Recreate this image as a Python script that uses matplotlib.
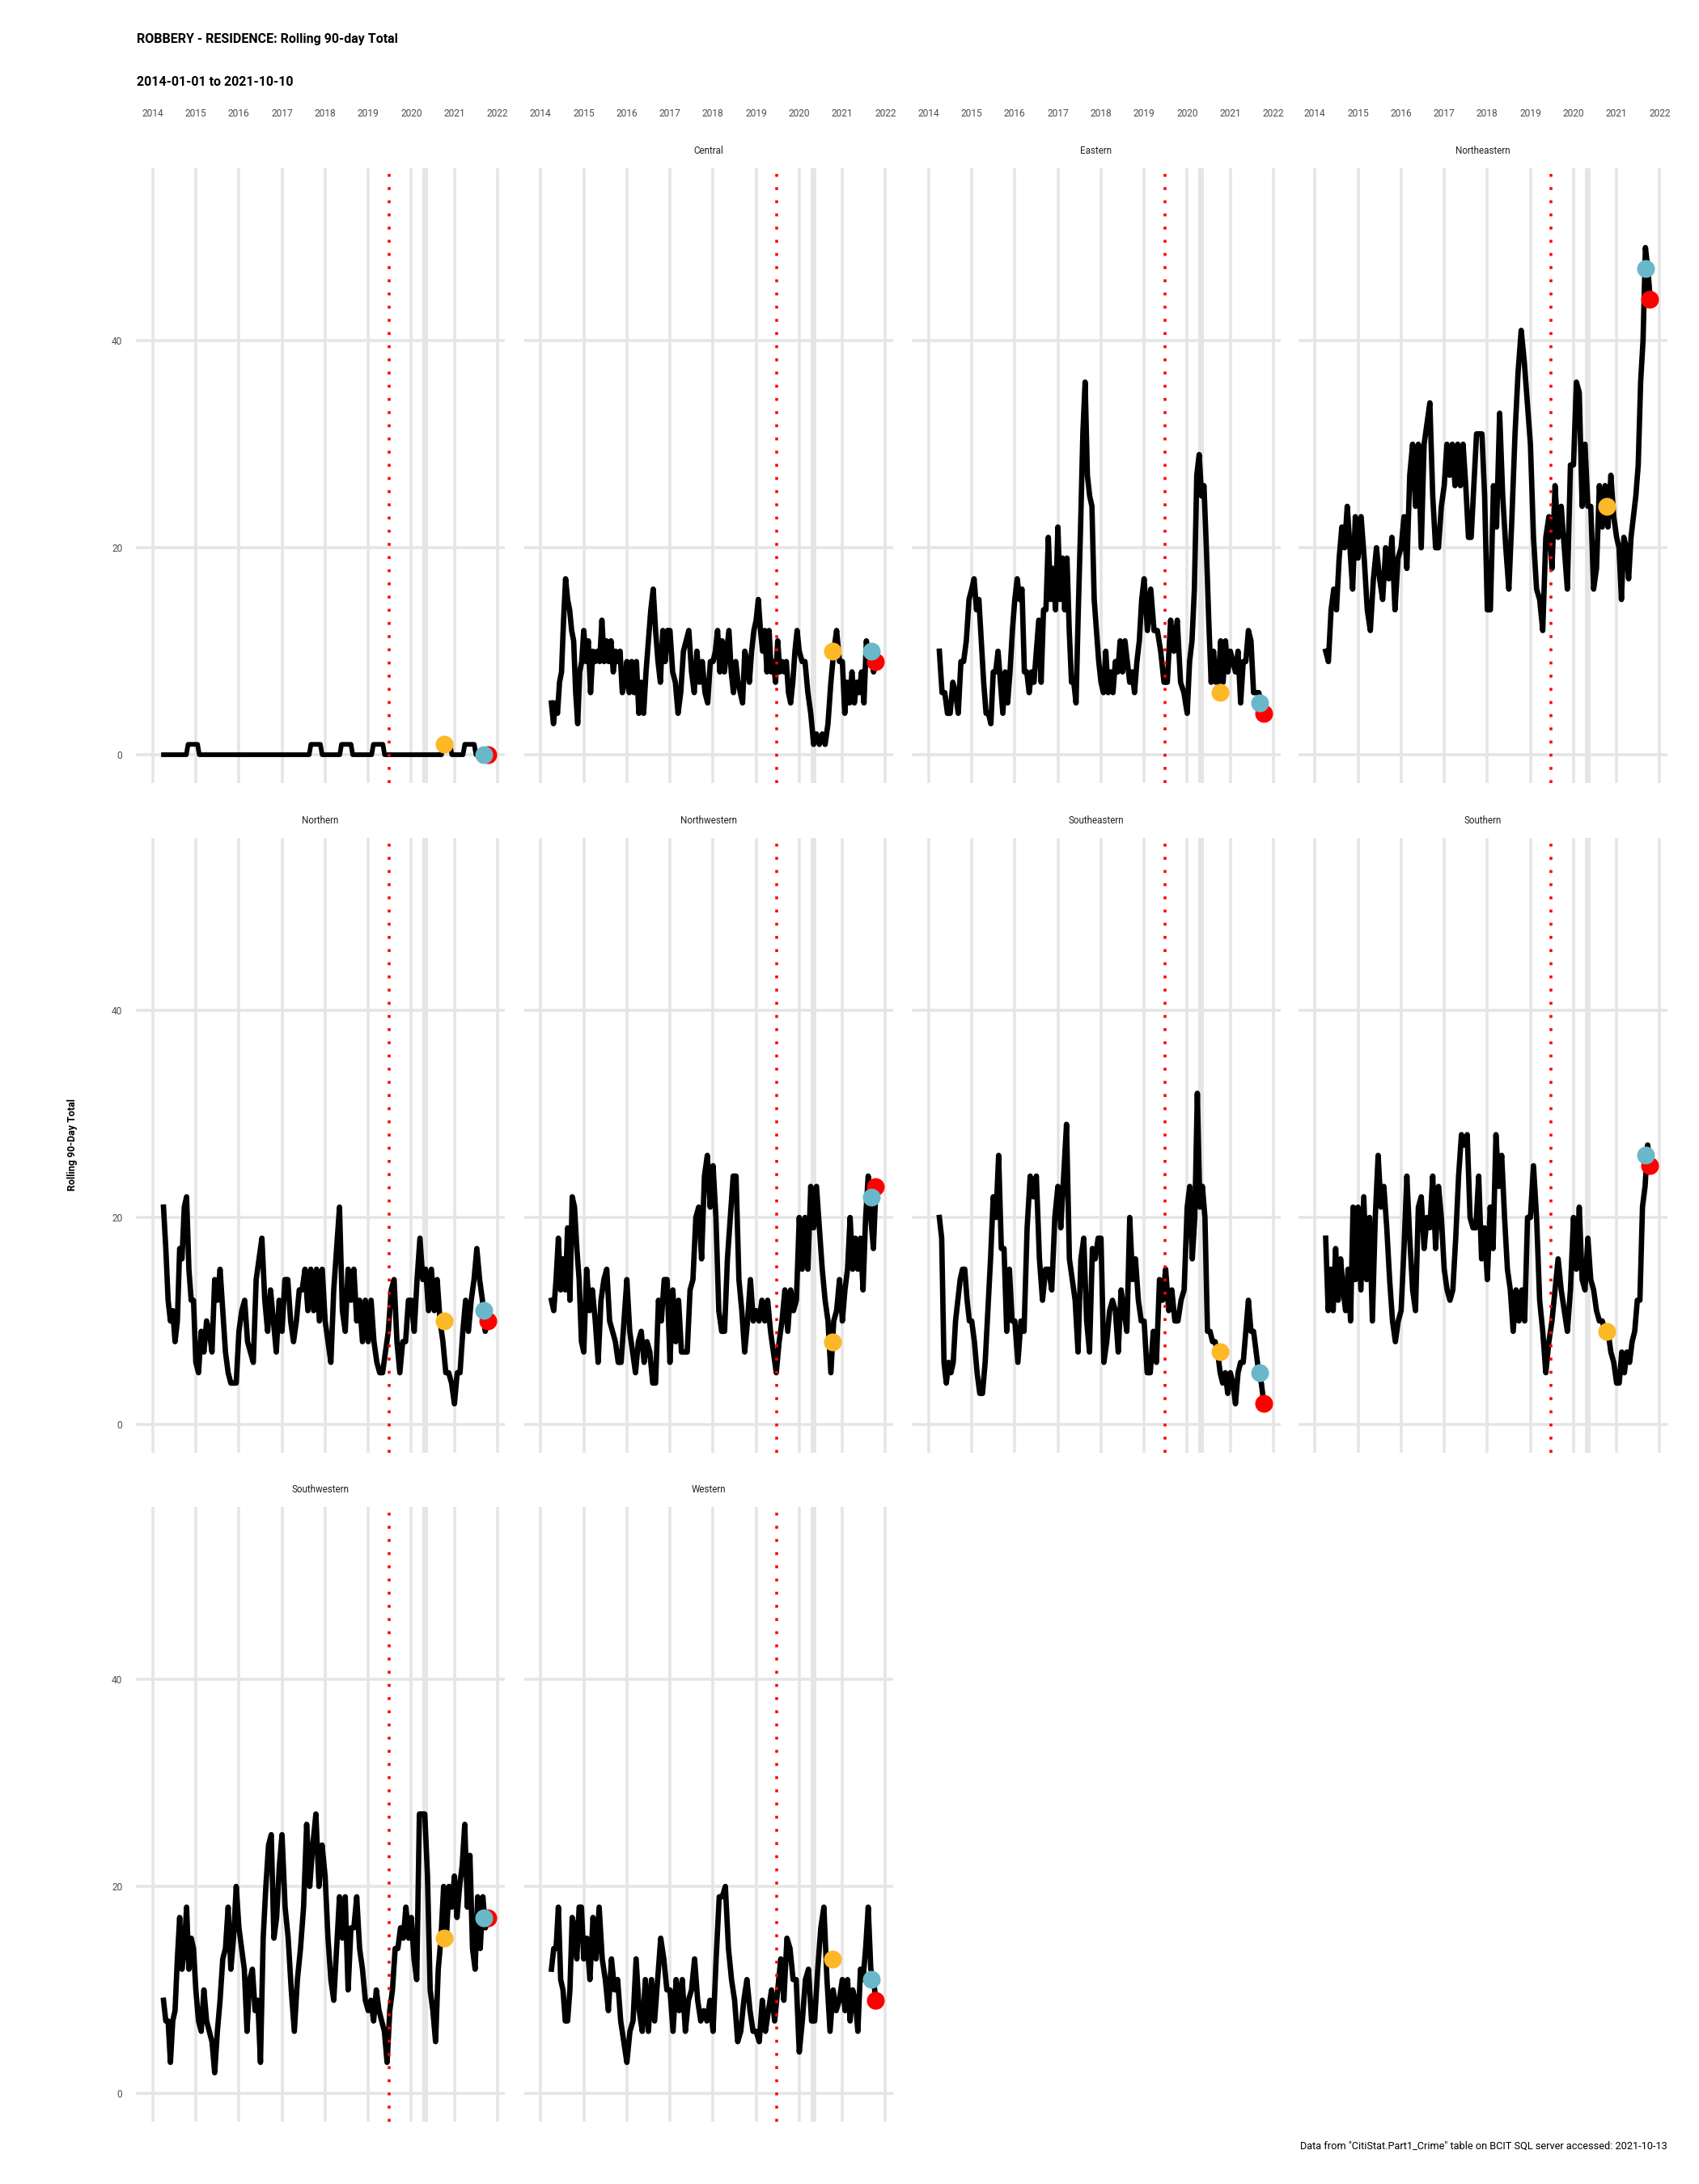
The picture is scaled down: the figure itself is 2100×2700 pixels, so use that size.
#!/usr/bin/env python3
import numpy as np
import matplotlib
matplotlib.use("Agg")
import matplotlib.pyplot as plt

plt.rcParams["font.family"] = ["Roboto", "DejaVu Sans"]

districts = ["", "Central", "Eastern", "Northeastern", "Northern", "Northwestern",
             "Southeastern", "Southern", "Southwestern", "Western"]
years = [2014, 2015, 2016, 2017, 2018, 2019, 2020, 2021, 2022]
y_ticks = [0, 20, 40]

# values, one list per calendar year (2014..2021)
blank_t = [2014.25, 2014.78, 2014.82, 2015.04, 2015.08, 2017.63, 2017.67, 2017.89, 2017.93,
           2018.34, 2018.38, 2018.60, 2018.64, 2019.08, 2019.12, 2019.34, 2019.38, 2020.70,
           2020.74, 2020.90, 2020.94, 2021.20, 2021.24, 2021.46, 2021.50, 2021.78]
blank_v = [0, 0, 1, 1, 0, 0, 1, 1, 0, 0, 1, 1, 0, 0, 1, 1, 0, 0, 1, 1, 0, 0, 1, 1, 0, 0]

central = [
    [5, 3, 5, 4, 7, 8, 13, 17, 15, 14, 12, 11, 6, 3, 8, 9],
    [12, 9, 11, 6, 10, 9, 10, 9, 13, 9, 11, 9, 11, 8, 10, 9, 10, 6, 7],
    [9, 6, 9, 6, 9, 4, 7, 4, 8, 11, 14, 16, 12, 9, 7, 12, 9, 12],
    [12, 8, 7, 4, 6, 10, 11, 12, 8, 6, 10, 7, 9, 6, 5, 9],
    [9, 10, 12, 8, 11, 8, 10, 12, 8, 6, 9, 7, 6, 5, 10, 9, 7, 10, 12],
    [13, 15, 12, 10, 12, 8, 12, 8, 9, 7, 11, 8, 9, 8, 9, 6, 5, 7, 10, 12],
    [10, 9, 9, 6, 4, 1, 2, 1, 2, 1, 3, 7, 10, 12, 9],
    [9, 4, 7, 5, 8, 5, 7, 6, 8, 5, 11, 9, 10, 8, 9],
]
eastern = [
    [10, 6, 6, 4, 4, 7, 6, 4, 9, 9, 11, 15],
    [16, 17, 14, 15, 11, 7, 4, 4, 3, 8, 8, 10, 7, 4, 8, 5, 8, 12],
    [15, 17, 15, 16, 8, 8, 6, 8, 7, 10, 13, 7, 14, 14, 21, 15, 18, 14],
    [22, 15, 19, 14, 19, 12, 7, 7, 5, 14, 22, 31, 36, 27, 25, 24, 15, 12, 9],
    [7, 6, 10, 6, 8, 6, 9, 8, 11, 8, 11, 9, 7, 8, 6, 9, 11, 15],
    [17, 12, 16, 12, 12, 10, 7, 7, 13, 10, 13, 7, 6],
    [4, 9, 11, 16, 27, 29, 25, 26, 20, 13, 7, 10, 7, 7, 11, 7, 11, 8],
    [10, 9, 8, 10, 5, 9, 9, 12, 11, 6, 6, 6, 5, 4],
]
northeastern = [
    [10, 9, 14, 16, 14, 19, 22, 20, 24, 20, 16, 23],
    [19, 23, 19, 14, 12, 17, 20, 17, 15, 20, 17, 21, 14, 19],
    [20, 23, 18, 27, 30, 24, 30, 20, 30, 32, 34, 25, 20, 20, 24],
    [26, 30, 27, 30, 26, 30, 26, 30, 26, 21, 21, 26, 31, 31, 31, 25],
    [14, 14, 26, 22, 33, 25, 20, 16, 23, 31, 37, 41, 38, 34],
    [30, 21, 16, 15, 12, 21, 23, 18, 26, 21, 24, 20, 16, 28],
    [28, 36, 35, 24, 30, 24, 24, 16, 18, 26, 22, 26, 22, 27, 23],
    [21, 20, 15, 21, 20, 17, 21, 23, 25, 28, 36, 40, 49, 47, 44],
]
northern = [
    [21, 17, 12, 10, 11, 8, 10, 17, 16, 21, 22, 15, 12, 12],
    [6, 5, 9, 7, 10, 9, 7, 14, 12, 15, 11, 7, 5, 4, 4, 4],
    [9, 11, 12, 8, 7, 6, 14, 16, 18, 12, 9, 13, 10, 7, 12],
    [9, 14, 14, 10, 8, 10, 13, 13, 15, 11, 15, 11, 15, 10, 15],
    [10, 8, 6, 13, 17, 21, 11, 9, 15, 12, 15, 10, 12, 8, 12],
    [8, 12, 8, 6, 5, 5, 7, 9, 13, 14, 8, 5, 8, 8, 12],
    [12, 9, 14, 18, 14, 15, 11, 15, 11, 14, 10, 8, 5, 5, 4],
    [2, 5, 5, 9, 12, 9, 12, 14, 17, 14, 12, 9, 10],
]
northwestern = [
    [12, 11, 14, 18, 13, 16, 13, 19, 12, 22, 21, 17, 14, 8],
    [7, 15, 11, 13, 10, 6, 12, 14, 15, 10, 9, 8, 6, 6, 10],
    [14, 9, 7, 5, 8, 9, 6, 8, 7, 4, 4, 12, 10, 14, 14],
    [6, 13, 8, 12, 7, 7, 7, 13, 14, 20, 21, 16, 24, 26, 21],
    [25, 20, 11, 9, 9, 16, 20, 24, 24, 14, 11, 7, 10, 14, 10],
    [11, 10, 12, 10, 12, 9, 7, 5, 8, 10, 13, 9, 13, 11, 12],
    [20, 15, 20, 15, 23, 19, 23, 19, 15, 12, 10, 5, 10, 11, 14],
    [10, 13, 15, 20, 15, 18, 15, 18, 13, 20, 24, 20, 17, 23],
]
southeastern = [
    [20, 18, 6, 4, 6, 5, 6, 10, 12, 14, 15, 15, 12, 10],
    [10, 8, 5, 3, 3, 6, 11, 16, 22, 20, 26, 17, 17, 9, 15, 10],
    [10, 6, 10, 9, 19, 24, 22, 24, 16, 12, 15, 15, 13, 20],
    [23, 19, 24, 29, 16, 14, 12, 7, 16, 18, 10, 7, 17, 16, 18],
    [18, 6, 8, 11, 12, 11, 7, 13, 11, 9, 20, 14, 16, 12, 10],
    [10, 5, 5, 9, 6, 14, 12, 15, 11, 13, 10, 10, 12, 13],
    [21, 23, 16, 20, 32, 21, 23, 20, 9, 9, 8, 8, 7, 5, 4, 5, 3],
    [5, 4, 2, 5, 6, 6, 9, 12, 9, 9, 7, 5, 4, 2],
]
southern = [
    [18, 11, 15, 11, 17, 12, 16, 13, 11, 15, 10, 21, 14],
    [21, 13, 22, 14, 20, 10, 20, 26, 21, 23, 19, 14, 10, 8, 10],
    [11, 17, 24, 18, 13, 11, 21, 22, 17, 20, 19, 24, 17, 23, 20],
    [15, 13, 12, 13, 18, 24, 28, 27, 28, 20, 19, 19, 24, 16, 19],
    [14, 21, 17, 28, 23, 26, 20, 15, 13, 9, 13, 10, 13, 10, 20],
    [20, 25, 20, 12, 9, 5, 8, 10, 13, 16, 13, 11, 9, 13],
    [20, 15, 21, 14, 13, 18, 14, 13, 11, 10, 10, 9, 9, 7, 6],
    [4, 4, 7, 5, 7, 6, 8, 9, 12, 12, 21, 23, 27, 25],
]
southwestern = [
    [9, 7, 7, 3, 7, 8, 13, 17, 12, 14, 18, 12, 15, 14],
    [10, 7, 6, 10, 7, 6, 5, 2, 6, 9, 13, 14, 18, 12, 15, 20],
    [16, 14, 12, 6, 11, 12, 8, 9, 3, 15, 20, 24, 25, 15, 17, 22],
    [25, 18, 15, 10, 6, 11, 14, 18, 26, 20, 24, 27, 20, 24],
    [21, 15, 11, 9, 14, 19, 15, 19, 10, 16, 16, 19, 14, 12, 9],
    [8, 9, 7, 10, 8, 7, 6, 3, 8, 10, 14, 14, 16, 15, 18, 15],
    [17, 13, 11, 27, 27, 27, 21, 10, 8, 5, 12, 15, 20, 15, 20, 18],
    [21, 17, 20, 22, 26, 18, 23, 14, 12, 19, 14, 19, 16, 17],
]
western = [
    [12, 14, 14, 18, 11, 10, 7, 7, 10, 17, 16, 13, 18, 18],
    [13, 15, 11, 17, 13, 18, 13, 11, 8, 13, 10, 11, 7, 5],
    [3, 6, 7, 13, 8, 6, 11, 6, 11, 7, 11, 15, 13, 10],
    [10, 6, 11, 8, 11, 6, 9, 10, 13, 9, 7, 8, 7, 9],
    [6, 13, 19, 19, 20, 14, 11, 9, 5, 6, 9, 11, 8, 6],
    [6, 5, 9, 6, 8, 10, 7, 10, 13, 9, 15, 14, 11, 11],
    [4, 7, 11, 12, 7, 7, 12, 16, 18, 11, 6, 10, 8, 9],
    [11, 8, 11, 7, 10, 9, 6, 12, 11, 14, 18, 12, 11, 9],
]

# one year ago, 30 days ago, latest
year_ago = [1, 10, 6, 24, 10, 8, 7, 9, 15, 13]
month_ago = [0, 10, 5, 47, 11, 22, 5, 26, 17, 11]
latest = [0, 9, 4, 44, 10, 23, 2, 25, 17, 9]

series = [None, central, eastern, northeastern, northern, northwestern,
          southeastern, southern, southwestern, western]

W, H = 2100, 2700
GRID = "#E5E5E5"
col_x = [168, 647.5, 1127, 1604.5]
row_zero = [933, 1761, 2588]
panel_w = 456
panel_h = 760
y_lim = (-2.7, 56.7)
x_lim = (2013.61, 2022.17)


def flatten(chunks):
    ts, vs = [], []
    for yr, chunk in zip(years, chunks):
        start = 2014.25 if yr == 2014 else yr
        stop = 2021.78 if yr == 2021 else yr + 1
        ts.extend(np.linspace(start, stop, len(chunk), endpoint=yr == 2021))
        vs.extend(chunk)
    return ts, vs


fig = plt.figure(figsize=(7, 9), dpi=300)

for i, name in enumerate(districts):
    row, col = divmod(i, 4)
    bottom_px = row_zero[row] - y_lim[0] * 12.8
    ax = fig.add_axes([col_x[col] / W, 1 - bottom_px / H, panel_w / W, panel_h / H])
    ax.set_xlim(*x_lim)
    ax.set_ylim(*y_lim)
    for s in ax.spines.values():
        s.set_visible(False)
    ax.set_xticks(years)
    ax.set_yticks(y_ticks)
    ax.grid(True, color=GRID, lw=0.85)
    ax.set_axisbelow(True)
    ax.tick_params(length=0, labelsize=2.9, labelcolor="#4D4D4D")
    ax.axvspan(2020.26, 2020.39, color=GRID, lw=0, zorder=0.5)

    if series[i] is None:
        ax.plot(blank_t, blank_v, color="black", lw=1.4, zorder=3)
    else:
        t, v = flatten(series[i])
        ax.plot(t, v, color="black", lw=1.6, zorder=3, solid_joinstyle="round")
    ax.axvline(2019.48, color="red", lw=0.85, ls=(0, (1, 3.6)), zorder=4)
    ax.scatter([2020.77], [year_ago[i]], s=28, color="#FDB827", lw=0, zorder=5)
    ax.scatter([2021.77], [latest[i]], s=28, color="red", lw=0, zorder=5)
    ax.scatter([2021.68], [month_ago[i]], s=28, color="#69B8C9", lw=0, zorder=6)

    ax.xaxis.tick_top()
    ax.tick_params(axis="x", labeltop=row == 0, pad=14.5)
    ax.tick_params(axis="y", labelleft=col == 0, pad=4)
    if name:
        ax.text(0.5, 1 + 21 / panel_h, name, transform=ax.transAxes, fontsize=2.8,
                color="#222222", ha="center", va="center")

fig.text(169 / W, 1 - 48 / H, "ROBBERY - RESIDENCE: Rolling 90-day Total",
         fontsize=3.85, fontweight="bold", va="center", ha="left")
fig.text(169 / W, 1 - 101 / H, "2014-01-01 to 2021-10-10",
         fontsize=3.85, fontweight="bold", va="center", ha="left")
fig.text(90 / W, 1 - 1415 / H, "Rolling 90-Day Total", rotation=90,
         fontsize=3.0, fontweight="bold", va="center", ha="center")
fig.text(2061 / W, 1 - 2653 / H, 'Data from "CitiStat.Part1_Crime" table on BCIT SQL server accessed: 2021-10-13',
         fontsize=3.07, va="center", ha="right")

fig.savefig("out.png", dpi=300)
print("Saved out.png")
